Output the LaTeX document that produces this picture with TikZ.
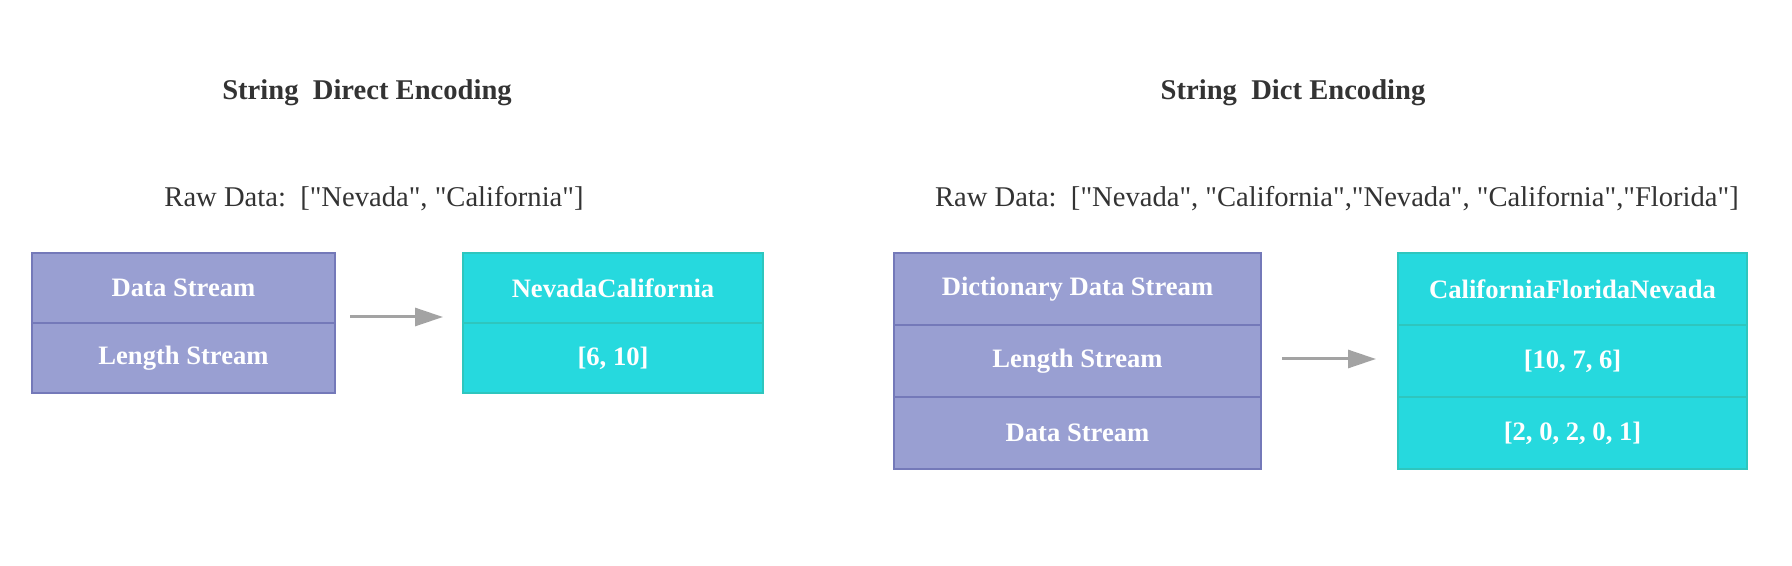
\documentclass[tikz,border=0pt]{standalone}
\usepackage{fontspec}
\setmainfont{Liberation Serif}[Ligatures=TeXOff]
\usepackage{xcolor}
\usetikzlibrary{positioning,arrows.meta}

\definecolor{streamfill}{HTML}{999FD2}
\definecolor{streamdraw}{HTML}{7479B9}
\definecolor{outfill}{HTML}{26D9DE}
\definecolor{outdraw}{HTML}{2EC6BE}
\definecolor{arrowgray}{HTML}{A3A3A3}
\definecolor{textgray}{HTML}{333333}

\begin{document}
\begin{tikzpicture}[x=0.5pt,y=-0.5pt,
			title/.style={
				font=\fontsize{14.3}{16}\selectfont\bfseries,
				text=textgray
			},
			raw/.style={
				font=\fontsize{14.3}{16}\selectfont,
				text=textgray
			},
			cell/.style={
				draw,
				line width=1.2pt,
				inner sep=0pt,
				outer sep=0pt,
				font=\fontsize{13.3}{16}\selectfont\bfseries,
				text=white
			},
			instream/.style={cell, fill=streamfill, draw=streamdraw},
			outstream/.style={cell, fill=outfill, draw=outdraw},
			flow/.style={draw=arrowgray, line width=1.5pt, -{Triangle[length=14pt,width=9pt]}}
			]
			\useasboundingbox (0,0) rectangle (1792,566);
			
			% direct encoding
			\node[title] (t1) at (367,93) {String\ \ Direct Encoding};
			\node[raw] (r1) at (374,199) {Raw Data:\ \ ["Nevada", "California"]};
			\node[instream, minimum width=151.5pt, minimum height=35pt, anchor=north west] (ds1) at (32,253) {Data Stream};
			\node[instream, minimum width=151.5pt, minimum height=35pt, below=0pt of ds1] (ls1) {Length Stream};
			\node[outstream, minimum width=150pt, minimum height=35pt, anchor=north west] (ov1) at (463,253) {NevadaCalifornia};
			\node[outstream, minimum width=150pt, minimum height=35pt, below=0pt of ov1] (ol1) {[6, 10]};
			\draw[flow, shorten <=7.5pt, shorten >=10pt] ([yshift=3pt]ds1.south east) -- ([yshift=3pt]ov1.south west);
			
			% dict encoding
			\node[title] (t2) at (1293,93) {String\ \ Dict Encoding};
			\node[raw] (r2) at (1337,199) {Raw Data:\ \ ["Nevada", "California","Nevada", "California","Florida"]};
			\node[instream, minimum width=183.5pt, minimum height=36pt, anchor=north west] (dd2) at (894,253) {Dictionary Data Stream};
			\node[instream, minimum width=183.5pt, minimum height=36pt, below=0pt of dd2] (ls2) {Length Stream};
			\node[instream, minimum width=183.5pt, minimum height=36pt, below=0pt of ls2] (ds2) {Data Stream};
			\node[outstream, minimum width=174.5pt, minimum height=36pt, anchor=north west] (ov2) at (1398,253) {CaliforniaFloridaNevada};
			\node[outstream, minimum width=174.5pt, minimum height=36pt, below=0pt of ov2] (ol2) {[10, 7, 6]};
			\node[outstream, minimum width=174.5pt, minimum height=36pt, below=0pt of ol2] (oi2) {[2, 0, 2, 0, 1]};
			\draw[flow, shorten <=10.5pt, shorten >=11pt] ([yshift=1pt]ls2.east) -- ([yshift=1pt]ol2.west);
		\end{tikzpicture}
\end{document}
